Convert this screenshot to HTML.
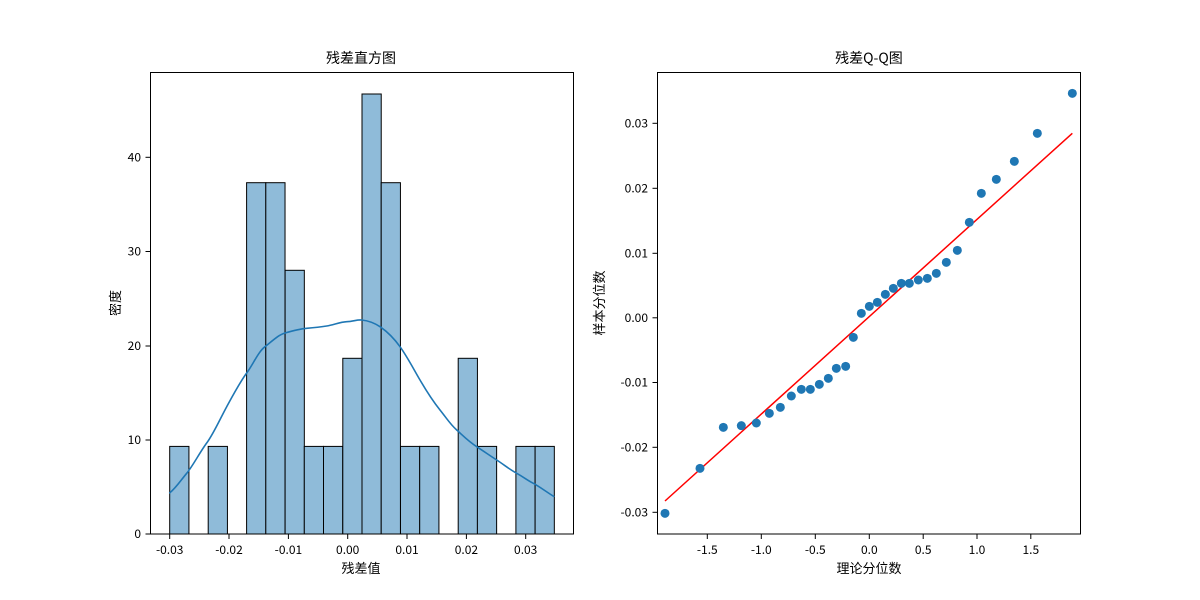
<!DOCTYPE html>
<html><head><meta charset="utf-8"><style>
html,body{margin:0;padding:0;background:#fff}
svg{display:block}
text{font-family:"WenQuanYi Zen Hei","Noto Sans CJK SC",sans-serif;fill:#000}
</style></head><body>
<svg width="1200" height="600" viewBox="0 0 1200 600" xmlns="http://www.w3.org/2000/svg">
<rect width="1200" height="600" fill="#fff"/>
<!-- LEFT -->
<g fill="#8fbbd9" stroke="#000" stroke-width="1">
<rect x="169.7" y="446.4" width="19.23" height="87.6"/>
<rect x="208.2" y="446.4" width="19.23" height="87.6"/>
<rect x="246.6" y="182.7" width="19.23" height="351.3"/>
<rect x="265.8" y="182.7" width="19.23" height="351.3"/>
<rect x="285.1" y="270.3" width="19.23" height="263.7"/>
<rect x="304.3" y="446.4" width="19.23" height="87.6"/>
<rect x="323.5" y="446.4" width="19.23" height="87.6"/>
<rect x="342.8" y="358.3" width="19.23" height="175.7"/>
<rect x="362.0" y="94" width="19.23" height="440"/>
<rect x="381.2" y="182.7" width="19.23" height="351.3"/>
<rect x="400.5" y="446.4" width="19.23" height="87.6"/>
<rect x="419.7" y="446.4" width="19.23" height="87.6"/>
<rect x="458.2" y="358.3" width="19.23" height="175.7"/>
<rect x="477.4" y="446.4" width="19.23" height="87.6"/>
<rect x="515.9" y="446.4" width="19.23" height="87.6"/>
<rect x="535.1" y="446.4" width="19.23" height="87.6"/>
</g>
<path d="M169.3,493.3 C176,488 181,480 186.7,473.3 S200,452 206.7,443 S220,419 226.7,406.7 S240,382 246.7,373 S258,352 265,346.7 S278,335 285,333 S299,329 306.7,328.3 S320,327 326.7,326 S340,322 346.7,321.7 S357,319.5 361.7,320 S373,322 380,326.7 S393,337 400,346.7 S413,368 420,380 S432,400 440,410 S450,424 456.7,430 S468,441 476.7,446.7 S489,455 496.7,460 S509,469 516.7,473.3 S527,480 533.3,483.3 S548,493 554.3,496.7" fill="none" stroke="#1f77b4" stroke-width="1.6"/>
<rect x="150.5" y="72.5" width="423" height="461.5" fill="none" stroke="#000" stroke-width="1"/>
<g stroke="#000" stroke-width="1">
<line x1="169.7" y1="534" x2="169.7" y2="539"/><line x1="229" y1="534" x2="229" y2="539"/><line x1="288.4" y1="534" x2="288.4" y2="539"/><line x1="347.7" y1="534" x2="347.7" y2="539"/><line x1="407" y1="534" x2="407" y2="539"/><line x1="466.4" y1="534" x2="466.4" y2="539"/><line x1="525.7" y1="534" x2="525.7" y2="539"/>
<line x1="145.5" y1="534" x2="150.5" y2="534"/><line x1="145.5" y1="440" x2="150.5" y2="440"/><line x1="145.5" y1="346" x2="150.5" y2="346"/><line x1="145.5" y1="251.5" x2="150.5" y2="251.5"/><line x1="145.5" y1="157.3" x2="150.5" y2="157.3"/>
</g>
<g font-size="12" text-anchor="middle">
<text x="169.7" y="554">-0.03</text><text x="229" y="554">-0.02</text><text x="288.4" y="554">-0.01</text><text x="347.7" y="554">0.00</text><text x="407" y="554">0.01</text><text x="466.4" y="554">0.02</text><text x="525.7" y="554">0.03</text>
</g>
<g font-size="12" text-anchor="end">
<text x="141" y="538">0</text><text x="141" y="444">10</text><text x="141" y="350">20</text><text x="141" y="255.5">30</text><text x="141" y="161.3">40</text>
</g>
<text x="361" y="573" font-size="13" text-anchor="middle">残差值</text>
<text x="0" y="0" font-size="13" text-anchor="middle" transform="translate(120,303) rotate(-90)">密度</text>
<text x="361" y="63" font-size="14" text-anchor="middle">残差直方图</text>

<!-- RIGHT -->
<g transform="translate(650,60) scale(0.33333)">
<line x1="45" y1="1323" x2="1267" y2="220" stroke="#ff0000" stroke-width="4.5"/>
<g fill="#1f77b4">
<circle cx="45" cy="1360" r="13.5"/><circle cx="150" cy="1225" r="13.5"/><circle cx="220" cy="1102" r="13.5"/><circle cx="274" cy="1097" r="13.5"/><circle cx="319" cy="1089" r="13.5"/><circle cx="358" cy="1060" r="13.5"/><circle cx="391" cy="1042" r="13.5"/><circle cx="424" cy="1008" r="13.5"/><circle cx="454" cy="988" r="13.5"/><circle cx="481" cy="988" r="13.5"/><circle cx="508" cy="973" r="13.5"/><circle cx="535" cy="955" r="13.5"/><circle cx="559" cy="925" r="13.5"/><circle cx="587" cy="919" r="13.5"/><circle cx="610" cy="832" r="13.5"/><circle cx="634" cy="760" r="13.5"/><circle cx="658" cy="739" r="13.5"/><circle cx="682" cy="727" r="13.5"/><circle cx="706" cy="703" r="13.5"/><circle cx="730" cy="685" r="13.5"/><circle cx="754" cy="670" r="13.5"/><circle cx="778" cy="670" r="13.5"/><circle cx="805" cy="660" r="13.5"/><circle cx="832" cy="655" r="13.5"/><circle cx="859" cy="640" r="13.5"/><circle cx="889" cy="607" r="13.5"/><circle cx="922" cy="571" r="13.5"/><circle cx="958" cy="487" r="13.5"/><circle cx="994" cy="400" r="13.5"/><circle cx="1039" cy="358" r="13.5"/><circle cx="1093" cy="304" r="13.5"/><circle cx="1162" cy="220" r="13.5"/><circle cx="1267" cy="100" r="13.5"/>
</g>
</g>
<rect x="657.5" y="72.5" width="423" height="461.5" fill="none" stroke="#000" stroke-width="1"/>
<g stroke="#000" stroke-width="1">
<line x1="707.3" y1="534" x2="707.3" y2="539"/><line x1="761.3" y1="534" x2="761.3" y2="539"/><line x1="815.3" y1="534" x2="815.3" y2="539"/><line x1="869.3" y1="534" x2="869.3" y2="539"/><line x1="923.2" y1="534" x2="923.2" y2="539"/><line x1="977" y1="534" x2="977" y2="539"/><line x1="1030.8" y1="534" x2="1030.8" y2="539"/>
<line x1="652.5" y1="123.3" x2="657.5" y2="123.3"/><line x1="652.5" y1="188.3" x2="657.5" y2="188.3"/><line x1="652.5" y1="253.3" x2="657.5" y2="253.3"/><line x1="652.5" y1="317.8" x2="657.5" y2="317.8"/><line x1="652.5" y1="382.5" x2="657.5" y2="382.5"/><line x1="652.5" y1="447.3" x2="657.5" y2="447.3"/><line x1="652.5" y1="512.3" x2="657.5" y2="512.3"/>
</g>
<g font-size="12" text-anchor="middle">
<text x="707.3" y="554">-1.5</text><text x="761.3" y="554">-1.0</text><text x="815.3" y="554">-0.5</text><text x="869.3" y="554">0.0</text><text x="923.2" y="554">0.5</text><text x="977" y="554">1.0</text><text x="1030.8" y="554">1.5</text>
</g>
<g font-size="12" text-anchor="end">
<text x="648" y="127.3">0.03</text><text x="648" y="192.3">0.02</text><text x="648" y="257.3">0.01</text><text x="648" y="321.8">0.00</text><text x="648" y="386.5">-0.01</text><text x="648" y="451.3">-0.02</text><text x="648" y="516.3">-0.03</text>
</g>
<text x="869" y="573" font-size="13" text-anchor="middle">理论分位数</text>
<text x="0" y="0" font-size="13" text-anchor="middle" transform="translate(604,303) rotate(-90)">样本分位数</text>
<text x="869" y="63" font-size="14" text-anchor="middle">残差Q-Q图</text>
</svg>
</body></html>
